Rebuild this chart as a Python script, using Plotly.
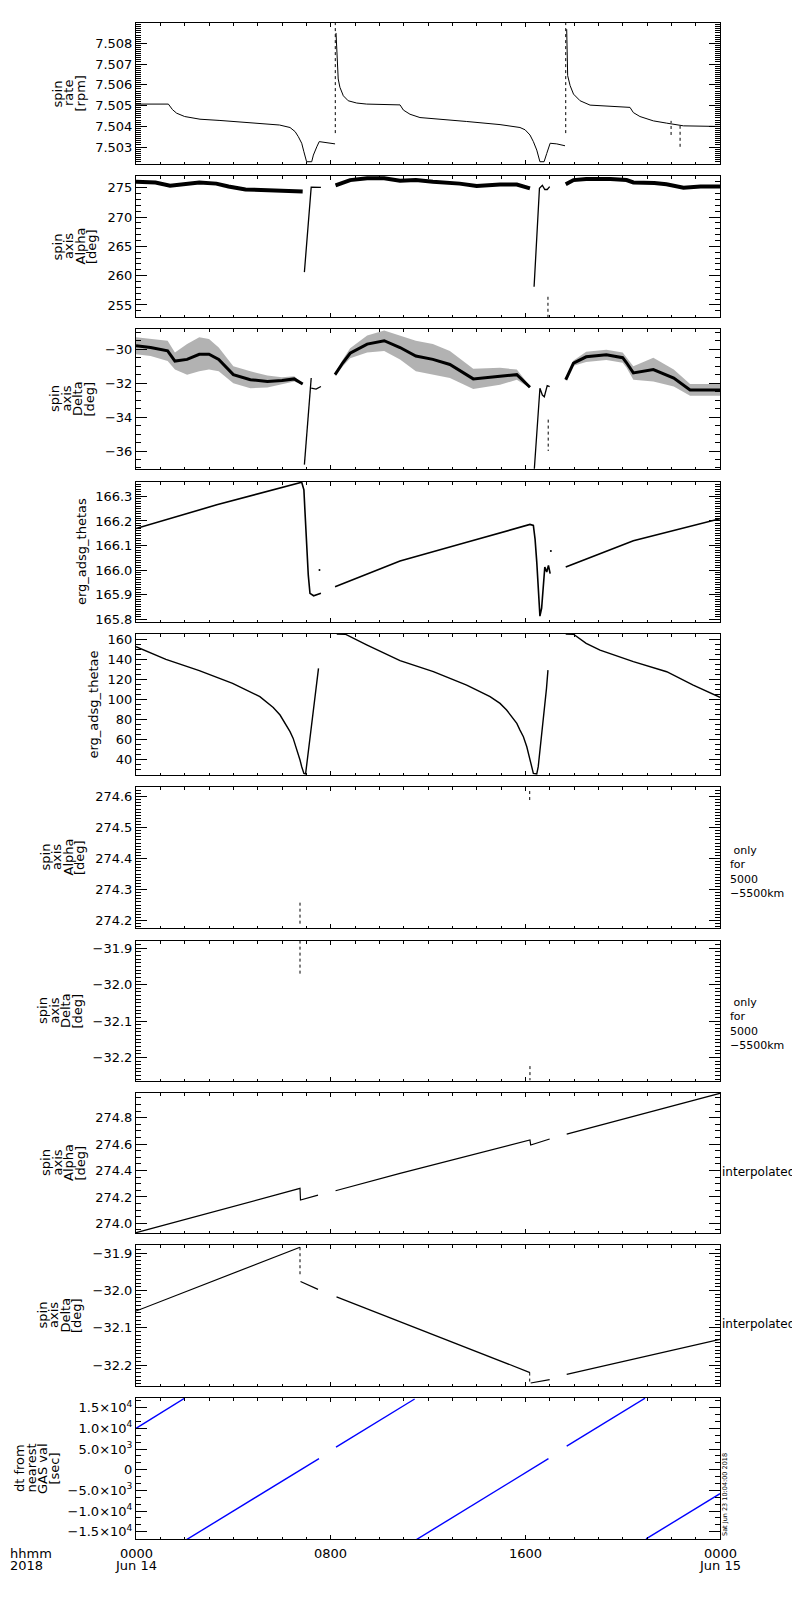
"""ERG spin / attitude summary, 2018-06-14 (10 stacked panels, IDL-style)."""
import plotly.graph_objects as go
from plotly.subplots import make_subplots

# ---- data: hours since 2018-06-14 00:00 UT ----
# spin rate [rpm]
RATE_T1 = [0, 1.33, 1.5, 1.67, 2.0, 2.63, 3.45, 5.1, 5.9, 6.33, 6.54, 6.67, 6.81, 6.90, 7.01,
           7.22, 7.29, 7.43, 7.53, 8.18]
RATE_V1 = [7.50507, 7.50507, 7.5048, 7.50463, 7.50447, 7.50434, 7.50428, 7.50415, 7.50406,
           7.50394, 7.50374, 7.5035, 7.50318, 7.50277, 7.50229, 7.50229, 7.50261, 7.50301,
           7.50326, 7.50315]
RATE_T2 = [8.22, 8.27, 8.31, 8.38, 8.52, 8.72, 9.07, 9.48, 10.85, 10.99, 11.26, 11.67, 12.36,
           13.59, 14.96, 15.78, 15.99, 16.19, 16.33, 16.47, 16.60, 16.77, 16.88, 17.02, 17.29,
           17.63]
RATE_V2 = [7.5085, 7.5069, 7.50628, 7.50588, 7.50547, 7.50523, 7.50512, 7.50507, 7.50503,
           7.50478, 7.50458, 7.50442, 7.50434, 7.50423, 7.50408, 7.50394, 7.50383, 7.50358,
           7.50326, 7.50285, 7.50229, 7.50229, 7.50269, 7.50318, 7.50315, 7.50306]
RATE_T3 = [17.70, 17.74, 17.84, 17.98, 18.25, 18.66, 20.3, 20.44, 20.71, 21.26, 21.81, 22.5, 24]
RATE_V3 = [7.50868, 7.50644, 7.50596, 7.50555, 7.50523, 7.50502, 7.50491, 7.50466, 7.50447,
           7.50426, 7.50415, 7.50402, 7.50399]
RATE_JUMP_T = [8.19, 17.66, 21.99, 22.36]
RATE_JUMP_LO = [7.50367, 7.50367, 7.50358, 7.50301]
RATE_JUMP_HI = [7.5090, 7.5090, 7.50426, 7.50402]

# spin axis Alpha [deg] (noisy band = thick line)
ALPHA_T1 = [0, 0.8, 1.4, 2.0, 2.6, 3.3, 3.8, 4.5, 5.4, 6.1, 6.6, 6.85]
ALPHA_V1 = [276.0, 275.9, 275.35, 275.6, 275.9, 275.7, 275.2, 274.7, 274.55, 274.6, 274.5, 274.35]
ALPHA_T2 = [8.2, 8.5, 8.8, 9.5, 10.2, 10.85, 11.5, 12.2, 13.3, 14.0, 14.96, 15.65, 16.19]
ALPHA_V2 = [275.4, 275.9, 276.3, 276.6, 276.6, 276.2, 276.3, 276.0, 275.7, 275.3, 275.55,
            275.55, 274.9]
ALPHA_T3 = [17.66, 17.98, 18.5, 19.5, 20.16, 20.44, 21.3, 21.8, 22.5, 23.2, 24]
ALPHA_V3 = [275.6, 276.3, 276.5, 276.5, 276.3, 275.9, 275.8, 275.6, 275.0, 275.2, 275.2]
ALPHA_DIP_T = [[6.92, 7.2, 7.6], [16.36, 16.58, 16.7, 16.8, 16.9, 17.0]]
ALPHA_DIP_V = [[260.6, 275.1, 275.05], [258.1, 274.9, 275.4, 274.7, 274.7, 275.2]]
ALPHA_DOT_T = [16.93, 16.93]
ALPHA_DOT_V = [256.4, 252.9]

# spin axis Delta [deg]: core of the scatter and its half-spread
DELTA_T = [[0, 0.6, 1.3, 1.6, 2.1, 2.6, 3.0, 3.4, 4.0, 4.7, 5.4, 6.0, 6.5, 6.85],
           [8.18, 8.5, 8.8, 9.5, 10.2, 10.85, 11.5, 12.2, 12.9, 13.86, 14.96, 15.65, 16.19],
           [17.66, 17.98, 18.5, 19.33, 20.0, 20.16, 20.44, 21.26, 22.1, 22.77, 24]]
DELTA_V = [[-29.8, -29.9, -30.1, -30.7, -30.6, -30.3, -30.3, -30.6, -31.5, -31.8, -31.9,
            -31.85, -31.75, -32.05],
           [-31.5, -30.8, -30.24, -29.7, -29.5, -29.9, -30.4, -30.6, -30.9, -31.75, -31.6,
            -31.5, -32.24],
           [-31.8, -30.82, -30.45, -30.33, -30.5, -30.8, -31.4, -31.2, -31.7, -32.4, -32.4]]
DELTA_S = [[0.5, 0.5, 0.6, 0.5, 0.9, 1.0, 0.9, 0.7, 0.5, 0.5, 0.35, 0.2, 0.15, 0.05],
           [0.1, 0.2, 0.3, 0.5, 0.6, 0.7, 0.9, 0.9, 0.8, 0.6, 0.5, 0.3, 0.05],
           [0.05, 0.15, 0.3, 0.3, 0.3, 0.3, 0.4, 0.7, 0.5, 0.35, 0.35]]
DELTA_DIP_T = [[6.92, 7.2], [7.2, 7.4, 7.6], [16.37, 16.6, 16.7, 16.78, 16.9, 17.0]]
DELTA_DIP_V = [[-36.8, -31.7], [-32.3, -32.35, -32.2], [-37.05, -32.3, -32.7, -32.8, -32.15, -32.2]]
DELTA_DOT_T = [16.94, 16.94]
DELTA_DOT_V = [-34.15, -36.0]

# erg_adsg_thetas
THS_T = [[0, 3.32, 6.81, 6.90, 6.94, 7.01, 7.08, 7.15, 7.3, 7.6],
         [8.18, 10.85, 13.59, 16.19, 16.33, 16.40, 16.47, 16.53, 16.60, 16.67, 16.74, 16.80,
          16.88, 16.95, 17.02],
         [17.66, 17.98, 20.44, 24]]
THS_V = [[166.169, 166.266, 166.358, 166.327, 166.247, 166.113, 165.979, 165.905, 165.895, 165.905],
         [165.932, 166.037, 166.113, 166.186, 166.182, 166.126, 166.032, 165.912, 165.812,
          165.845, 165.925, 166.012, 165.992, 166.019, 165.985],
         [166.012, 166.025, 166.119, 166.209]]
THS_DOT_T = [7.54, 17.05]
THS_DOT_V = [166.0, 166.078]

# erg_adsg_thetae
THE_T = [[0, 1.23, 2.6, 3.97, 5.09, 5.37, 5.64, 5.92, 6.05, 6.19, 6.33, 6.46, 6.60, 6.74,
          6.81, 6.90, 6.97, 7.5],
         [8.25, 8.6, 9.5, 10.2, 10.85, 12.22, 13.59, 14.55, 14.96, 15.23, 15.51, 15.65, 15.78,
          15.92, 16.06, 16.19, 16.26, 16.33, 16.47, 16.53, 16.87, 16.93],
         [17.66, 17.98, 18.5, 19.07, 20.44, 21.81, 22.9, 24]]
THE_V = [[152.4, 139.7, 128.4, 115.8, 102.5, 97.5, 91.8, 84.2, 79.2, 74.2, 67.6, 60.9, 51.0,
          39.3, 32.7, 26.0, 25.5, 130.7],
         [165, 164.8, 154, 145.7, 138.4, 127.4, 114.1, 102.5, 95.8, 89.2, 80.9, 75.9, 69.2,
          62.6, 52.6, 41.0, 32.7, 26.0, 25.5, 32.7, 110.8, 129.0],
         [165, 164.7, 155.7, 149, 137.4, 127.4, 114.1, 101.8]]

# only for 5000-5500 km
ALPHA_R_T = [[6.74, 6.74], [16.18, 16.18]]
ALPHA_R_V = [[274.19, 274.261], [274.589, 274.627]]
DELTA_R_T = [[6.74, 6.74], [16.19, 16.19]]
DELTA_R_V = [[-31.879, -31.978], [-32.224, -32.263]]

# interpolated
ALPHA_I_T = [[0, 6.74, 6.76, 7.48], [8.2, 10.85, 16.19, 16.22, 17.0], [17.7, 24]]
ALPHA_I_V = [[273.929, 274.265, 274.177, 274.214], [274.247, 274.379, 274.631, 274.593, 274.639],
             [274.676, 274.985]]
DELTA_I_T = [[0, 6.74], [6.76, 7.48], [8.24, 10.85, 16.19], [16.22, 17.0], [17.7, 24]]
DELTA_I_V = [[-32.055, -31.884], [-31.976, -31.997], [-32.017, -32.084, -32.22],
             [-32.248, -32.239], [-32.225, -32.131]]
DELTA_I_JUMP_T = [[6.74, 6.74], [16.18, 16.18]]
DELTA_I_JUMP_V = [[-31.884, -31.963], [-32.22, -32.252]]

# dt from nearest GAS value [sec]
DT_T = [[0, 2.0], [2.0, 7.52], [8.22, 11.45], [11.5, 16.95], [17.7, 20.92], [20.96, 24]]
DT_V = [[10000, 17300], [-17200, 2670], [5470, 17100], [-17000, 2660], [5700, 17300],
        [-16750, -5800]]

# ---- layout (pixels of the 800x1600 page; the page body has an 8px margin) ----
PAGE_W, PAGE_H, BODY = 800, 1600, 8
L, R, TOP, BOT = 136, 720, 23, 1539
PANELS = [(23, 164), (176, 317), (329, 469), (482, 622), (634, 775),
          (787, 928), (941, 1081), (1093, 1233), (1245, 1386), (1398, 1539)]
FONT = "DejaVu Sans"


def px(x):
    return (x - L) / (R - L)


def py(y):
    return (BOT - y) / (BOT - TOP)


fig = make_subplots(rows=10, cols=1)


def line(row, t, v, width=1.0, color="black", dash=None):
    fig.add_trace(go.Scatter(x=t, y=v, mode="lines", hoverinfo="skip", showlegend=False,
                             line=dict(color=color, width=width, dash=dash)), row=row, col=1)


# panel 1
for t, v in [(RATE_T1, RATE_V1), (RATE_T2, RATE_V2), (RATE_T3, RATE_V3)]:
    line(1, t, v)
for t, lo, hi in zip(RATE_JUMP_T, RATE_JUMP_LO, RATE_JUMP_HI):
    line(1, [t, t], [lo, hi], dash="dot")

# panel 2
for t, v in [(ALPHA_T1, ALPHA_V1), (ALPHA_T2, ALPHA_V2), (ALPHA_T3, ALPHA_V3)]:
    line(2, t, v, width=4)
for t, v in zip(ALPHA_DIP_T, ALPHA_DIP_V):
    line(2, t, v, width=1.3)
line(2, ALPHA_DOT_T, ALPHA_DOT_V, dash="dot")

# panel 3: scatter band + dense core
for t, v, s in zip(DELTA_T, DELTA_V, DELTA_S):
    fig.add_trace(go.Scatter(x=t, y=[a - b for a, b in zip(v, s)], mode="lines",
                             line=dict(width=0), hoverinfo="skip", showlegend=False), row=3, col=1)
    fig.add_trace(go.Scatter(x=t, y=[a + b for a, b in zip(v, s)], mode="lines", fill="tonexty",
                             fillcolor="rgba(0,0,0,0.3)", line=dict(width=0),
                             hoverinfo="skip", showlegend=False), row=3, col=1)
    line(3, t, v, width=3)
for t, v in zip(DELTA_DIP_T, DELTA_DIP_V):
    line(3, t, v, width=1.3)
line(3, DELTA_DOT_T, DELTA_DOT_V, dash="dot")

# panel 4
for t, v in zip(THS_T, THS_V):
    line(4, t, v, width=1.6)
fig.add_trace(go.Scatter(x=THS_DOT_T, y=THS_DOT_V, mode="markers", hoverinfo="skip",
                         showlegend=False, marker=dict(color="black", size=2)), row=4, col=1)

# panel 5
for t, v in zip(THE_T, THE_V):
    line(5, t, v, width=1.4)

# panels 6, 7
for t, v in zip(ALPHA_R_T, ALPHA_R_V):
    line(6, t, v, dash="dot")
for t, v in zip(DELTA_R_T, DELTA_R_V):
    line(7, t, v, dash="dot")

# panels 8, 9
for t, v in zip(ALPHA_I_T, ALPHA_I_V):
    line(8, t, v, width=1.2)
for t, v in zip(DELTA_I_T, DELTA_I_V):
    line(9, t, v, width=1.2)
for t, v in zip(DELTA_I_JUMP_T, DELTA_I_JUMP_V):
    line(9, t, v, dash="dot")

# panel 10
for t, v in zip(DT_T, DT_V):
    line(10, t, v, width=1.4, color="#0000ff")

# ---- axes ----
fig.update_xaxes(range=[0, 24], tickmode="linear", tick0=0, dtick=8, ticks="inside", ticklen=4,
                 tickcolor="black", showline=True, linecolor="black", linewidth=1,
                 mirror="allticks", showgrid=False, zeroline=False, showticklabels=False,
                 minor=dict(ticks="inside", dtick=1, ticklen=2.5, tickcolor="black"))
fig.update_yaxes(ticks="inside", ticklen=11, tickcolor="black", showline=True,
                 linecolor="black", linewidth=1, mirror="allticks", showgrid=False,
                 zeroline=False, tickfont=dict(family=FONT, size=13, color="black"))

YAX = [  # range, tick0, dtick, minor dtick, format
    ([7.50218, 7.50898], 7.503, 0.001, 0.0001, ".3f"),
    ([252.95, 277.0], 0, 5, 1, "d"),
    ([-37.06, -28.81], 0, 2, 0.5, "d"),
    ([165.788, 166.359], 165.8, 0.1, 0.01, ".1f"),
    ([24.4, 165.0], 0, 20, 5, "d"),
    ([274.176, 274.631], 274.2, 0.1, 0.01, ".1f"),
    ([-32.265, -31.880], -32.2, 0.1, 0.01, ".1f"),
    ([273.927, 274.987], 274.0, 0.2, 0.05, ".1f"),
    ([-32.256, -31.878], -32.2, 0.1, 0.01, ".1f"),
]
for i, (rng, t0, dt, mdt, fmt) in enumerate(YAX, start=1):
    top, bot = PANELS[i - 1]
    fig.update_yaxes(range=rng, tickmode="linear", tick0=t0, dtick=dt, tickformat=fmt,
                     domain=[py(bot), py(top)],
                     minor=dict(ticks="inside", tick0=t0, dtick=mdt, ticklen=5, tickcolor="black"),
                     row=i, col=1)
top, bot = PANELS[9]
fig.update_yaxes(range=[-16766, 17346], domain=[py(bot), py(top)], tickmode="array",
                 tickvals=[-15000, -10000, -5000, 0, 5000, 10000, 15000],
                 ticktext=["−1.5×10<sup>4</sup>", "−1.0×10<sup>4</sup>", "−5.0×10<sup>3</sup>",
                           "0", "5.0×10<sup>3</sup>", "1.0×10<sup>4</sup>", "1.5×10<sup>4</sup>"],
                 minor=dict(ticks="inside", tick0=0, dtick=5000 / 3, ticklen=5, tickcolor="black"),
                 row=10, col=1)

# ---- text ----
ann = []


def text(s, x, y, angle=0, xanchor="center", size=13, xref="paper", yanchor="middle"):
    ann.append(dict(text=s, x=x, y=y, xref=xref, yref="paper", showarrow=False,
                    textangle=angle, xanchor=xanchor, yanchor=yanchor, align="left",
                    font=dict(family=FONT, size=size, color="black")))


SA = ["spin", "axis", "Alpha", "[deg]"]
SD = ["spin", "axis", "Delta", "[deg]"]
TITLES = [
    (["spin", "rate", "[rpm]"], [57, 68.5, 80]),
    (SA, [57, 68.5, 80, 91.5]),
    (SD, [54, 65.5, 77, 88.5]),
    (["erg_adsg_thetas"], [81]),
    (["erg_adsg_thetae"], [93]),
    (SA, [45, 56.5, 68, 79.5]),
    (SD, [42, 53.5, 65, 76.5]),
    (SA, [45, 56.5, 68, 79.5]),
    (SD, [42, 53.5, 65, 76.5]),
    (["dt from", "nearest", "GAS val", "[sec]"], [19.5, 31, 42.5, 54]),
]
for (lines, xs), (top, bot) in zip(TITLES, PANELS):
    for s, x in zip(lines, xs):
        text(s, px(x), py((top + bot) / 2), angle=-90)

for y in (872, 1024):
    text(" only<br>for<br>5000<br>−5500km", px(728), py(y), xanchor="left", size=11)
text("interpolated", px(720), py(1171.7), xanchor="left", size=12)
text("interpolated", px(720), py(1324.3), xanchor="left", size=12)
text("Sat Jun 23 10:04:00 2018", px(725), py(1495), angle=-90, size=6.5)

for x, s in [(0, "0000"), (8, "0800"), (16, "1600"), (24, "0000")]:
    text(s, x, py(1553), xref="x10")
text("Jun 14", 0, py(1565), xref="x10")
text("Jun 15", 24, py(1565), xref="x10")
text("hhmm", px(8), py(1553), xanchor="left")
text("2018", px(8), py(1565), xanchor="left")

fig.update_layout(width=PAGE_W - BODY, height=PAGE_H - BODY,
                  margin=dict(l=L - BODY, r=PAGE_W - R, t=TOP - BODY, b=PAGE_H - BOT),
                  paper_bgcolor="white", plot_bgcolor="white", showlegend=False,
                  font=dict(family=FONT, size=13, color="black"), annotations=ann)
fig.write_html("out.html")
